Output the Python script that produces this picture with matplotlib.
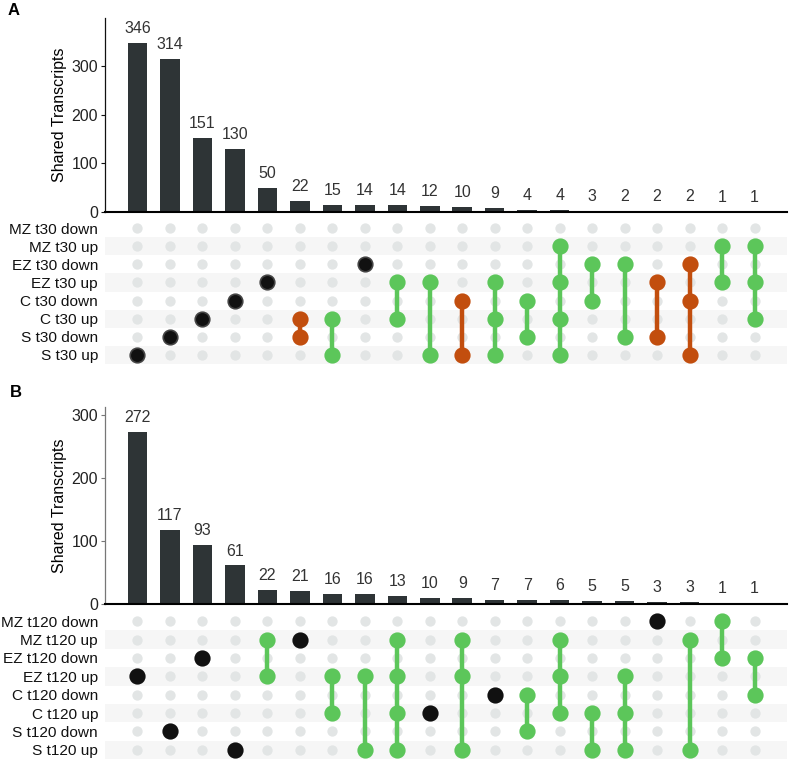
"""UpSet-style plots of shared transcripts, t30 (A) and t120 (B)."""
import matplotlib
matplotlib.use("Agg")
import matplotlib.pyplot as plt

plt.rcParams["font.family"] = ["Liberation Sans", "DejaVu Sans"]

rows_a = ["MZ t30 down", "MZ t30 up", "EZ t30 down", "EZ t30 up",
          "C t30 down", "C t30 up", "S t30 down", "S t30 up"]
counts_a = [346, 314, 151, 130, 50, 22, 15, 14, 14, 12, 10, 9, 4, 4, 3, 2, 2, 2, 1, 1]
sets_a = [
    ["S t30 up"], ["S t30 down"], ["C t30 up"], ["C t30 down"], ["EZ t30 up"],
    ["C t30 up", "S t30 down"], ["C t30 up", "S t30 up"], ["EZ t30 down"],
    ["EZ t30 up", "C t30 up"], ["EZ t30 up", "S t30 up"], ["C t30 down", "S t30 up"],
    ["EZ t30 up", "C t30 up", "S t30 up"], ["C t30 down", "S t30 down"],
    ["MZ t30 up", "EZ t30 up", "C t30 up", "S t30 up"], ["EZ t30 down", "C t30 down"],
    ["EZ t30 down", "S t30 down"], ["EZ t30 up", "S t30 down"],
    ["EZ t30 down", "C t30 down", "S t30 up"], ["MZ t30 up", "EZ t30 up"],
    ["MZ t30 up", "EZ t30 up", "C t30 up"],
]
kind_a = ["k", "k", "k", "k", "k", "o", "g", "k", "g", "g",
          "o", "g", "g", "g", "g", "g", "o", "o", "g", "g"]

rows_b = ["MZ t120 down", "MZ t120 up", "EZ t120 down", "EZ t120 up",
          "C t120 down", "C t120 up", "S t120 down", "S t120 up"]
counts_b = [272, 117, 93, 61, 22, 21, 16, 16, 13, 10, 9, 7, 7, 6, 5, 5, 3, 3, 1, 1]
sets_b = [
    ["EZ t120 up"], ["S t120 down"], ["EZ t120 down"], ["S t120 up"],
    ["MZ t120 up", "EZ t120 up"], ["MZ t120 up"], ["EZ t120 up", "C t120 up"],
    ["EZ t120 up", "S t120 up"],
    ["MZ t120 up", "EZ t120 up", "C t120 up", "S t120 up"], ["C t120 up"],
    ["MZ t120 up", "EZ t120 up", "S t120 up"], ["C t120 down"],
    ["C t120 down", "S t120 down"], ["MZ t120 up", "EZ t120 up", "C t120 up"],
    ["C t120 up", "S t120 up"], ["EZ t120 up", "C t120 up", "S t120 up"],
    ["MZ t120 down"], ["MZ t120 up", "S t120 up"], ["MZ t120 down", "EZ t120 down"],
    ["EZ t120 down", "C t120 down"],
]
kind_b = ["k", "k", "k", "k", "g", "k", "g", "g", "g", "k",
          "g", "k", "g", "g", "g", "g", "k", "g", "g", "g"]

COLORS = {"k": "#111111", "g": "#5cc65a", "o": "#c24e0e"}
BAR = "#2e3436"
FS = 11.5
W, H = 792, 761


def frac(left, top, right, bottom):
    return [left / W, 1 - bottom / H, (right - left) / W, (bottom - top) / H]


def upset(fig, bar_box, mat_box, rows, counts, sets, kinds, ymax, edge, spine):
    n = len(counts)
    xs = list(range(n))

    ax = fig.add_axes(frac(*bar_box))
    ax.bar(xs, counts, width=0.6, color=BAR)
    for x, c in zip(xs, counts):
        ax.annotate(str(c), (x, c), xytext=(0, 5), textcoords="offset points",
                    ha="center", va="bottom", fontsize=FS, color="#333333")
    ax.set_xlim(-1, n)
    ax.set_ylim(0, ymax)
    ax.set_yticks([0, 100, 200, 300])
    ax.set_xticks([])
    ax.tick_params(axis="y", labelsize=FS, length=3, width=0.8, pad=2,
                   colors=spine, labelcolor="#222222")
    ax.set_ylabel("Shared Transcripts", fontsize=FS, labelpad=3)
    for s in ("top", "right"):
        ax.spines[s].set_visible(False)
    ax.spines["bottom"].set_linewidth(1.5)
    ax.spines["left"].set_linewidth(0.9)
    ax.spines["left"].set_color(spine)

    mx = fig.add_axes(frac(*mat_box))
    nr = len(rows)
    for i in range(nr):
        if i % 2 == 1:
            mx.axhspan(i - 0.5, i + 0.5, color="#f6f6f6", lw=0, zorder=0)
    for x in xs:
        mx.scatter([x] * nr, range(nr), s=55, color="#e2e5e5", lw=0, zorder=1)
    for x, members, k in zip(xs, sets, kinds):
        ys = [rows.index(m) for m in members]
        col = COLORS[k]
        if len(ys) > 1:
            mx.plot([x, x], [min(ys), max(ys)], color=col, lw=3.2,
                    solid_capstyle="butt", zorder=2)
        mx.scatter([x] * len(ys), ys, s=110, color=col, zorder=3,
                   edgecolors=edge if k == "k" else col, linewidths=1.2)
    mx.set_xlim(-1, n)
    mx.set_ylim(nr - 0.5, -0.5)
    mx.set_xticks([])
    mx.set_yticks(range(nr))
    mx.set_yticklabels(rows, fontsize=11.1, color="#111111")
    mx.tick_params(axis="y", length=0, pad=5)
    for s in mx.spines.values():
        s.set_visible(False)


fig = plt.figure(figsize=(W / 100, H / 100), dpi=100)
upset(fig, (105, 18, 787, 212), (105, 219, 787, 364),
      rows_a, counts_a, sets_a, kind_a, 398, "#444444", "#111111")
upset(fig, (105, 407, 787, 604), (105, 612, 787, 759),
      rows_b, counts_b, sets_b, kind_b, 312, "#111111", "#777777")
fig.text(8 / W, 1 - 3 / H, "A", fontsize=12, fontweight="bold", va="top")
fig.text(10 / W, 1 - 385 / H, "B", fontsize=12, fontweight="bold", va="top")
fig.savefig("out.png", dpi=100)
